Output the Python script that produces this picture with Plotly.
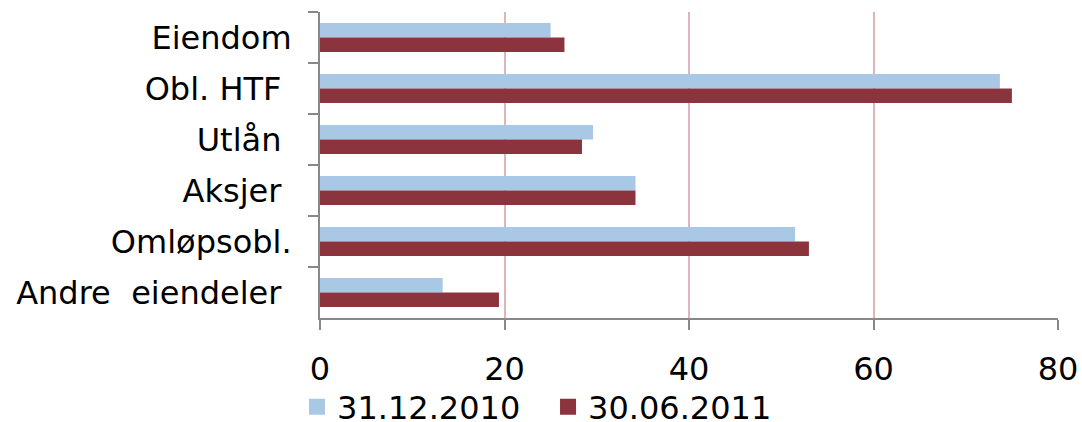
import plotly.graph_objects as go

categories = ["Eiendom", "Obl. HTF\u00a0", "Utlån\u00a0", "Aksjer\u00a0", "Omløpsobl.", "Andre\u00a0\u00a0eiendeler\u00a0"]
series_names = ["31.12.2010", "30.06.2011"]
values_2010 = [25.0, 73.7, 29.6, 34.2, 51.5, 13.3]
values_2011 = [26.5, 75.0, 28.4, 34.2, 53.0, 19.4]
x_ticks = [0, 20, 40, 60, 80]

colors = ["#A9C8E6", "#8B343E"]
font_family = "DejaVu Sans, Verdana, sans-serif"

fig = go.Figure()
for name, vals, col in zip(series_names, [values_2010, values_2011], colors):
    fig.add_trace(go.Bar(
        y=categories, x=vals, name=name, orientation="h",
        marker=dict(color=col, line=dict(width=0)),
        showlegend=False,
    ))
    fig.add_trace(go.Scatter(
        x=[None], y=[None], mode="markers", name=name,
        marker=dict(symbol="square", size=18, color=col),
        showlegend=True,
    ))

fig.update_layout(
    width=1082, height=422,
    margin=dict(l=320, r=24, t=12, b=104),
    paper_bgcolor="white", plot_bgcolor="white",
    font=dict(family=font_family, size=32, color="#000000"),
    barmode="group", bargap=0.43, bargroupgap=0,
    legend=dict(orientation="h", xref="container", yref="container",
                x=0.5065, xanchor="center", y=1 - 407 / 422, yanchor="middle",
                font=dict(size=32), itemsizing="trace", tracegroupgap=0,
                entrywidth=206, entrywidthmode="pixels"),
)
fig.update_xaxes(
    range=[0, 80], tickvals=x_ticks, ticktext=[str(t) for t in x_ticks],
    showgrid=True, gridcolor="#E0B5BA", gridwidth=2,
    showline=True, linecolor="#888888", linewidth=2,
    ticks="outside", ticklen=10, tickwidth=2, tickcolor="#888888",
    ticklabelstandoff=12, zeroline=False, automargin=False,
)
fig.update_yaxes(
    autorange="reversed", type="category",
    showline=True, linecolor="#888888", linewidth=2,
    ticks="outside", ticklen=10, tickwidth=2, tickcolor="#888888",
    tickson="boundaries", ticklabelstandoff=20, showgrid=False,
    automargin=False,
)
fig.write_html("out.html", config={"displayModeBar": False},
               post_script="document.body.style.margin='0';")
